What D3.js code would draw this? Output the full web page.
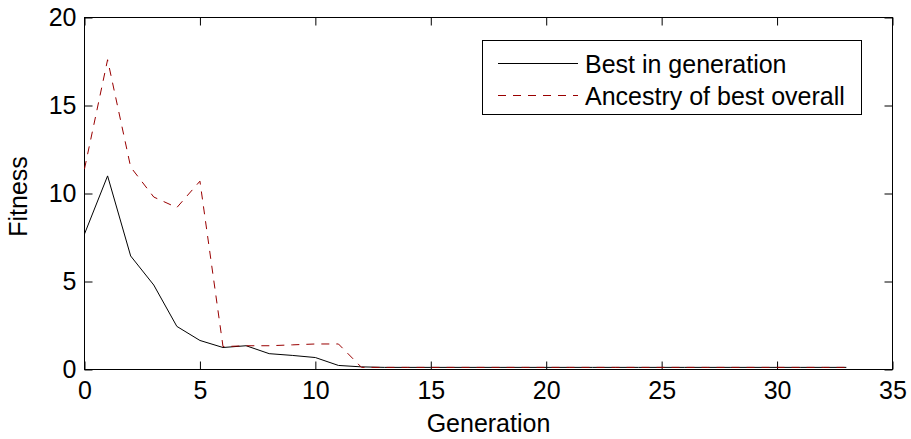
<!DOCTYPE html>
<html>
<head>
<meta charset="utf-8">
<script src="https://cdn.jsdelivr.net/npm/d3@7"></script>
<style>
  html, body { margin: 0; padding: 0; background: #fff; }
  svg { display: block; }
  text { font-family: "Liberation Sans", Arial, Helvetica, sans-serif; fill: #000; }
</style>
</head>
<body>
<svg id="chart" width="911" height="439"></svg>
<script>
// ---- data ----
const generations = d3.range(0, 34);
const bestInGeneration = [7.7, 11.0, 6.45, 4.8, 2.45, 1.65, 1.25, 1.35, 0.9, 0.8, 0.68, 0.23, 0.15,
  0.12, 0.12, 0.12, 0.12, 0.12, 0.12, 0.12, 0.12, 0.12, 0.12, 0.12, 0.12, 0.12, 0.12, 0.12, 0.12, 0.12, 0.12, 0.12, 0.12, 0.12];
const ancestryBest = [11.4, 17.6, 11.5, 9.8, 9.2, 10.7, 1.3, 1.35, 1.35, 1.4, 1.45, 1.45, 0.12,
  0.12, 0.12, 0.12, 0.12, 0.12, 0.12, 0.12, 0.12, 0.12, 0.12, 0.12, 0.12, 0.12, 0.12, 0.12, 0.12, 0.12, 0.12, 0.12, 0.12, 0.12];
const xTicks = [0, 5, 10, 15, 20, 25, 30, 35];
const yTicks = [0, 5, 10, 15, 20];
const seriesNames = ["Best in generation", "Ancestry of best overall"];
const xLabel = "Generation";
const yLabel = "Fitness";

// ---- layout ----
const L = 84.5, R = 892.5, T = 17.5, B = 369.5;
const FS = 25;
const svg = d3.select("#chart");

const x = d3.scaleLinear().domain([0, 35]).range([L, R]);
const y = d3.scaleLinear().domain([0, 20]).range([B, T]);

// box
svg.append("rect").attr("x", L).attr("y", T).attr("width", R - L).attr("height", B - T)
  .attr("fill", "none").attr("stroke", "#000").attr("stroke-width", 1);

const tickLen = 8;
// bottom axis
const xAxisB = d3.axisBottom(x).tickValues(xTicks).tickSizeInner(-tickLen).tickSizeOuter(0).tickPadding(12);
const gxb = svg.append("g").attr("transform", `translate(0,${B})`).call(xAxisB);
gxb.select(".domain").remove();
gxb.selectAll("text").style("font-size", FS + "px").attr("font-family", null).attr("fill", "#000");
gxb.selectAll("line").attr("stroke", "#000");
// top axis ticks
const xAxisT = d3.axisTop(x).tickValues(xTicks).tickSizeInner(-tickLen).tickSizeOuter(0).tickFormat("");
const gxt = svg.append("g").attr("transform", `translate(0,${T})`).call(xAxisT);
gxt.select(".domain").remove();
gxt.selectAll("line").attr("stroke", "#000");
// left axis
const yAxisL = d3.axisLeft(y).tickValues(yTicks).tickSizeInner(-tickLen).tickSizeOuter(0).tickPadding(8);
const gyl = svg.append("g").attr("transform", `translate(${L},0)`).call(yAxisL);
gyl.select(".domain").remove();
gyl.selectAll("text").style("font-size", FS + "px").attr("font-family", null).attr("fill", "#000");
gyl.selectAll("line").attr("stroke", "#000");
// right axis ticks
const yAxisR = d3.axisRight(y).tickValues(yTicks).tickSizeInner(-tickLen).tickSizeOuter(0).tickFormat("");
const gyr = svg.append("g").attr("transform", `translate(${R},0)`).call(yAxisR);
gyr.select(".domain").remove();
gyr.selectAll("line").attr("stroke", "#000");

// axis titles
svg.append("text").attr("x", (L + R) / 2).attr("y", 432).attr("text-anchor", "middle")
  .style("font-size", FS + "px").text(xLabel);
svg.append("text").attr("transform", `translate(27,${(T + B) / 2 + 3}) rotate(-90)`).attr("text-anchor", "middle")
  .style("font-size", FS + "px").text(yLabel);

// lines
const line = d3.line().x((d, i) => x(generations[i])).y(d => y(d));
svg.append("path").datum(bestInGeneration).attr("d", line)
  .attr("fill", "none").attr("stroke", "#000").attr("stroke-width", 1);
svg.append("path").datum(ancestryBest).attr("d", line)
  .attr("fill", "none").attr("stroke", "#990000").attr("stroke-width", 1)
  .attr("stroke-dasharray", "8,7");

// legend
const lg = svg.append("g");
lg.append("rect").attr("x", 482.5).attr("y", 40.5).attr("width", 379).attr("height", 74)
  .attr("fill", "#fff").attr("stroke", "#000").attr("stroke-width", 1);
const legendRows = [
  { name: seriesNames[0], color: "#000", dash: null, y: 63.5 },
  { name: seriesNames[1], color: "#990000", dash: "8,7", y: 95.5 }
];
legendRows.forEach(r => {
  lg.append("line").attr("x1", 498).attr("x2", 578).attr("y1", r.y).attr("y2", r.y)
    .attr("stroke", r.color).attr("stroke-width", 1).attr("stroke-dasharray", r.dash);
  lg.append("text").attr("x", 585).attr("y", r.y).attr("dy", "0.36em")
    .style("font-size", FS + "px").text(r.name);
});
</script>
</body>
</html>
